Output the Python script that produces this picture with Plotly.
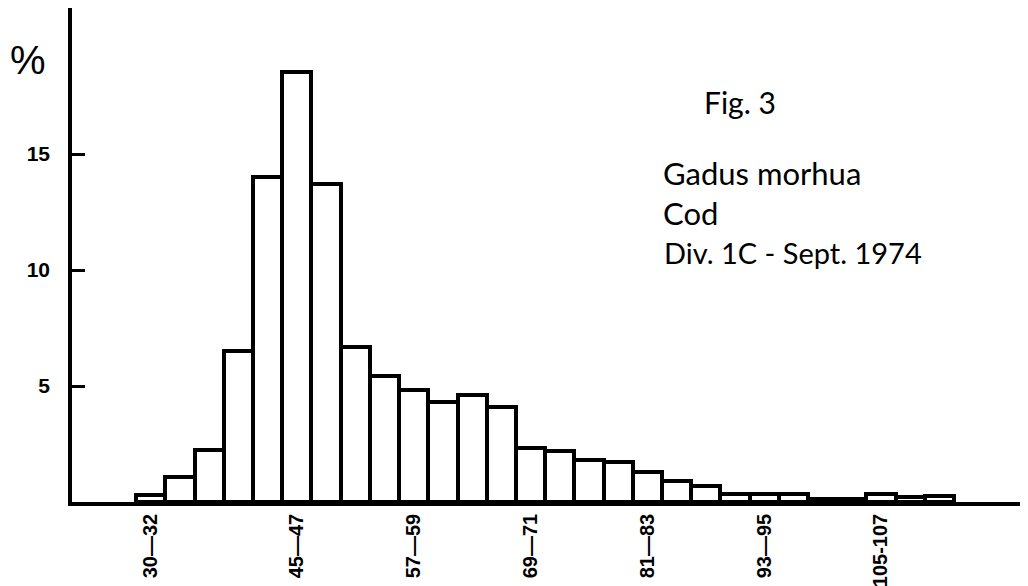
import plotly.graph_objects as go

# Length classes (cm), 3-cm groups
bins = ["30-32", "33-35", "36-38", "39-41", "42-44", "45-47", "48-50", "51-53",
        "54-56", "57-59", "60-62", "63-65", "66-68", "69-71", "72-74", "75-77",
        "78-80", "81-83", "84-86", "87-89", "90-92", "93-95", "96-98", "99-101",
        "102-104", "105-107", "108-110", "111-113"]
# Percent frequency
percent = [0.30, 1.06, 2.24, 6.49, 14.0, 18.55, 13.73, 6.68,
           5.42, 4.82, 4.31, 4.60, 4.10, 2.33, 2.18, 1.82,
           1.71, 1.29, 0.89, 0.70, 0.36, 0.36, 0.36, 0.15,
           0.15, 0.35, 0.22, 0.25]

tick_bins = ["30-32", "45-47", "57-59", "69-71", "81-83", "93-95", "105-107"]
tick_text = ["30—32", "45—47", "57—59", "69—71", "81—83", "93—95", "105-107"]
y_ticks = [5, 10, 15]

text_lines = ["Fig. 3", "Gadus morhua", "Cod", "Div. 1C - Sept. 1974"]

fig = go.Figure()
fig.add_trace(go.Bar(
    x=bins, y=percent,
    marker=dict(color="white", line=dict(color="black", width=4)),
    width=1.0,
))

fig.update_layout(
    width=1028, height=586,
    margin=dict(l=72, r=8, t=8, b=84, autoexpand=False),
    paper_bgcolor="white", plot_bgcolor="white",
    showlegend=False, bargap=0,
    font=dict(family="Liberation Sans", color="black"),
)
fig.update_xaxes(
    type="category", categoryorder="array", categoryarray=bins,
    range=[-2.7, 29.76], automargin=False,
    showline=True, linecolor="black", linewidth=3.5,
    showgrid=False, zeroline=False,
    tickmode="array", tickvals=tick_bins, ticktext=tick_text,
    tickangle=-90, ticks="",
    tickfont=dict(family="Liberation Sans", size=20, weight="bold", color="black"),
)
fig.update_yaxes(
    range=[0, 21.3], automargin=False,
    showline=True, linecolor="black", linewidth=3.5,
    showgrid=False, zeroline=False,
    tickmode="array", tickvals=y_ticks, ticktext=[str(v) for v in y_ticks],
    ticks="inside", ticklen=13, tickwidth=3, tickcolor="black",
    ticklabelstandoff=14,
    tickfont=dict(family="Liberation Sans", size=21, weight="bold", color="black"),
)

fig.add_annotation(text="%", xref="paper", yref="paper",
                   x=-0.068, y=0.895, xanchor="left", yanchor="middle",
                   showarrow=False,
                   font=dict(family="Liberation Sans", size=40, color="black"))

ann_pos = [(702, 102), (661, 173), (661, 213), (662, 252)]
ann_sizes = [30, 31, 31, 29]
for txt, (px, py), sz in zip(text_lines, ann_pos, ann_sizes):
    fig.add_annotation(
        text=txt, xref="paper", yref="paper",
        x=(px - 72) / 948, y=1 - (py - 8) / 494,
        xanchor="left", yanchor="middle", showarrow=False,
        font=dict(family="Lato", size=sz, color="black"),
    )

fig.write_html("out.html", config={"displayModeBar": False},
               post_script="document.body.style.margin='0';document.body.style.overflow='hidden';")
